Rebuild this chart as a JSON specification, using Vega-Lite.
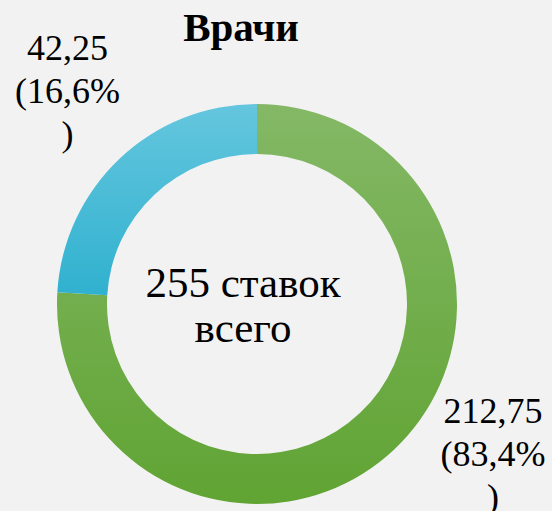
{
  "$schema": "https://vega.github.io/schema/vega-lite/v6.json",
  "width": 514,
  "height": 406,
  "autosize": {"type": "none"},
  "padding": {"left": 0, "top": 101, "right": 38, "bottom": 4},
  "background": "#f2f2f2",
  "view": {"stroke": null},
  "title": {
    "text": "Врачи",
    "font": "Liberation Serif",
    "fontSize": 41,
    "fontWeight": "bold",
    "color": "#000000",
    "anchor": "middle",
    "frame": "group",
    "baseline": "bottom",
    "offset": -109,
    "dx": -16
  },
  "data": {
    "values": [
      {"group": "A", "value": 212.75, "label": "212,75\n(83,4%\n)", "ord": 1},
      {"group": "B", "value": 42.25, "label": "42,25\n(16,6%\n)", "ord": 2}
    ]
  },
  "layer": [
    {
      "mark": {"type": "arc", "outerRadius": 200, "innerRadius": 150},
      "encoding": {
        "theta": {"field": "value", "type": "quantitative", "stack": true, "scale": {"type": "pow", "exponent": 1.52}},
        "order": {"field": "ord", "type": "quantitative"},
        "detail": {"field": "group", "type": "nominal"},
        "fill": {
          "condition": {
            "test": "datum.group === 'B'",
            "value": {"gradient": "linear", "x1": 0, "y1": 0, "x2": 0, "y2": 1,
              "stops": [{"offset": 0, "color": "#65c6de"}, {"offset": 1, "color": "#30b1cf"}]}
          },
          "value": {"gradient": "linear", "x1": 0, "y1": 0, "x2": 0, "y2": 1,
            "stops": [{"offset": 0, "color": "#84b866"}, {"offset": 1, "color": "#60a433"}]}
        }
      }
    },
    {
      "mark": {"type": "text", "font": "Liberation Serif", "fontSize": 36, "lineHeight": 43, "lineBreak": "\n", "baseline": "middle", "align": "center", "radius": 278, "thetaOffset": 0.464, "dy": -39, "color": "#000000"},
      "encoding": {
        "theta": {"field": "value", "type": "quantitative", "stack": true, "scale": {"type": "pow", "exponent": 1.52}},
        "order": {"field": "ord", "type": "quantitative"},
        "detail": {"field": "group", "type": "nominal"},
        "text": {"condition": {"test": "datum.group === 'A'", "field": "label", "type": "nominal"}, "value": ""}
      }
    },
    {
      "mark": {"type": "text", "font": "Liberation Serif", "fontSize": 36, "lineHeight": 43, "lineBreak": "\n", "baseline": "middle", "align": "center", "radius": 285, "thetaOffset": 0.047, "dy": -42, "color": "#000000"},
      "encoding": {
        "theta": {"field": "value", "type": "quantitative", "stack": true, "scale": {"type": "pow", "exponent": 1.52}},
        "order": {"field": "ord", "type": "quantitative"},
        "detail": {"field": "group", "type": "nominal"},
        "text": {"condition": {"test": "datum.group === 'B'", "field": "label", "type": "nominal"}, "value": ""}
      }
    },
    {
      "data": {"values": [{"caption": "255 ставок\nвсего"}]},
      "mark": {"type": "text", "font": "Liberation Serif", "fontSize": 43, "lineHeight": 45, "lineBreak": "\n", "baseline": "alphabetic", "align": "center", "dx": -14, "dy": -7, "color": "#000000"},
      "encoding": {
        "text": {"field": "caption", "type": "nominal"}
      }
    }
  ]
}
